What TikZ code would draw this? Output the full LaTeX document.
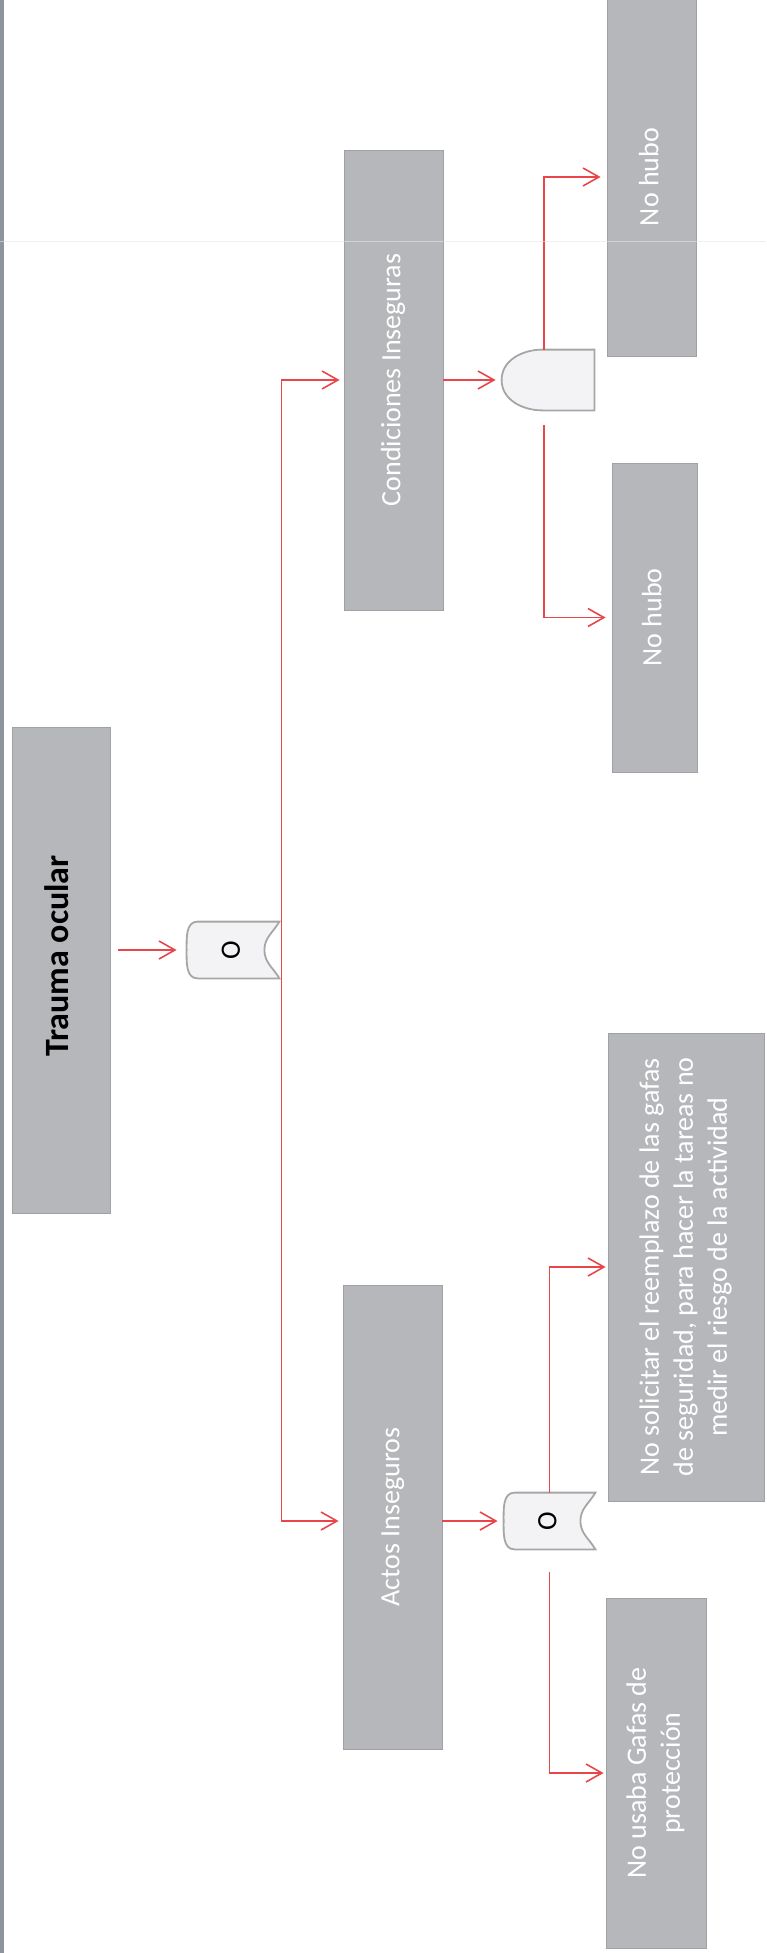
\documentclass[tikz,border=0pt]{standalone}
\usepackage{fontspec}
\setmainfont{Carlito}
\usepackage{graphicx}
\usepackage{xcolor}
\usetikzlibrary{arrows.meta,positioning,backgrounds}
\definecolor{boxgray}{HTML}{B5B7BA}
\definecolor{boxline}{HTML}{9FA1A4}
\definecolor{gatefill}{HTML}{F3F3F5}
\definecolor{gateline}{HTML}{A6A6A6}
\definecolor{linkred}{HTML}{E8464A}
\definecolor{edgegray}{HTML}{8E949E}
\newcommand{\vlabel}[1]{\rotatebox{90}{\begin{tabular}{@{}c@{}}#1\end{tabular}}}

\begin{document}
\begin{tikzpicture}[x=0.5pt, y=-0.5pt,
    event/.style={draw=boxline, line width=0.4pt, fill=boxgray, inner sep=0pt,
        text=white, font=\fontsize{14}{17}\selectfont},
    gatebox/.style={inner sep=0pt, minimum width=46pt, minimum height=28pt,
        font=\fontsize{14}{17}\selectfont},
    gateshape/.style={draw=gateline, line width=0.9pt, fill=gatefill},
    >={Straight Barb[length=8pt,width=9pt]},
    flow/.style={draw=linkred, line width=0.8pt, ->}]
    \useasboundingbox (0,0) rectangle (766,1953);

    % Page edge
    \draw[edgegray, line width=2pt] (2,0) -- (2,1953);

    % Top event
    \node[event, text=black, font=\fontsize{17}{20}\selectfont\bfseries,
        minimum width=49pt, minimum height=243pt] (trauma) at (61,970)
        {\vlabel{\hspace*{14pt}Trauma ocular}};

    % Intermediate events
    \node[event, minimum width=49.5pt, minimum height=230pt] (cond) at (393.5,380)
        {\vlabel{Condiciones Inseguras}};
    \node[event, minimum width=49.5pt, minimum height=232pt] (act) at (392.5,1517)
        {\vlabel{Actos Inseguros}};

    % Basic events
    \node[event, minimum width=44.5pt, minimum height=179pt] (nh1) at (651.5,177)
        {\vlabel{No hubo}};
    \node[event, minimum width=42.5pt, minimum height=154.5pt] (nh2) at (654.5,617.5)
        {\vlabel{No hubo}};
    \node[event, minimum width=78pt, minimum height=234pt] (ns) at (686,1267)
        {\vlabel{No solicitar el reemplazo de las gafas\\de seguridad, para hacer la tareas no\\medir el riesgo de la actividad}};
    \node[event, minimum width=50pt, minimum height=175pt] (nu) at (656,1773)
        {\vlabel{No usaba Gafas de\\protección}};

    % Gates
    \node[gatebox] (g0) at (233,950) {\vlabel{O}};
    \node[gatebox, minimum height=30pt] (ga) at (548,380) {};
    \node[gatebox, minimum width=45.5pt] (gb) at (549.5,1521) {\vlabel{O}};

    \begin{scope}[on background layer]
        \foreach \g in {g0,gb}
            \path[gateshape] ([xshift=5.5pt]\g.north west) -- (\g.north east)
                to[out=240,in=90] ([xshift=-7.5pt]\g.east)
                to[out=-90,in=120] (\g.south east)
                -- ([xshift=5.5pt]\g.south west)
                to[out=180,in=-90] (\g.west)
                to[out=90,in=180] ([xshift=5.5pt]\g.north west) -- cycle;
        \path[gateshape] (ga.north east) -- ([xshift=-26pt]ga.north east)
            to[out=180,in=90] (ga.west)
            to[out=-90,in=180] ([xshift=-26pt]ga.south east)
            -- (ga.south east) -- cycle;
    \end{scope}

    % Connectors
    \coordinate (bus) at ([xshift=1pt]g0.east);
    \draw[flow, shorten <=4pt, shorten >=5pt] (trauma.east |- g0.west) -- (g0.west);
    \draw[flow, <->, shorten <=2pt, shorten >=2pt]
        (cond.west) -- (bus |- cond.west) -- (bus |- gb.west) -- (act.west |- gb.west);
    \draw[flow, shorten >=3pt] (cond.east |- ga.west) -- (ga.west);
    \draw[flow, shorten >=3pt] (act.east |- gb.west) -- (gb.west);
    \draw[flow, shorten >=3pt] ([xshift=-2pt]ga.north) |- (nh1.west);
    \draw[flow, shorten >=3pt] ([xshift=-2pt,yshift=-7.5pt]ga.south) |- (nh2.west);
    \draw[flow, shorten >=1pt] (gb.north) |- (ns.west);
    \draw[flow, shorten >=1pt] ([yshift=-11.5pt]gb.south) |- (nu.west);

    % Faint scan line
    \draw[black!10, line width=0.5pt, opacity=0.6] (0,242) -- (766,242);
\end{tikzpicture}
\end{document}
